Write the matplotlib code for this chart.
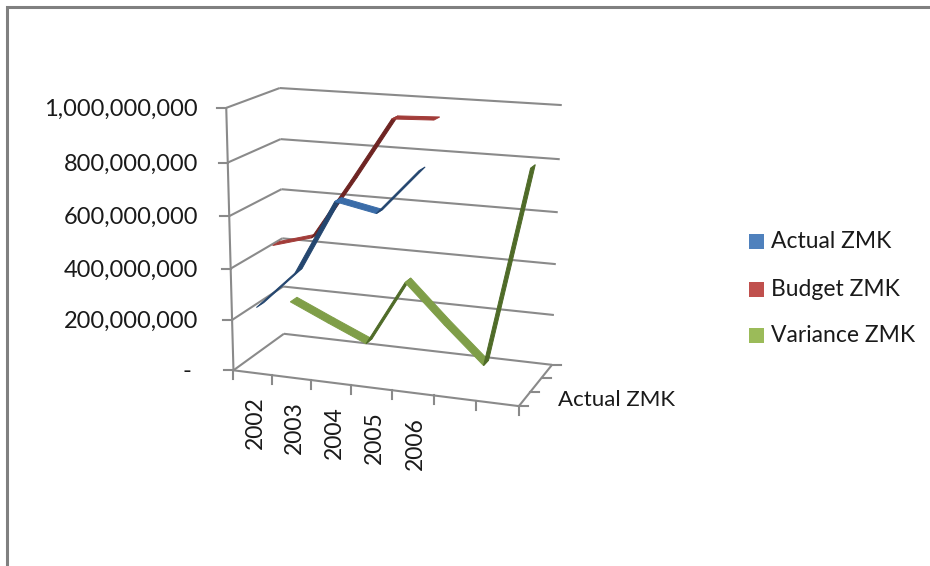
import numpy as np
import matplotlib
matplotlib.use('Agg')
import matplotlib.pyplot as plt
from matplotlib.patches import Polygon, Rectangle

plt.rcParams['font.family'] = ['Lato', 'DejaVu Sans']

categories = ['2002', '2003', '2004', '2005', '2006', '', '']
y_ticks = [0, 200000000, 400000000, 600000000, 800000000, 1000000000]
series_names = ['Actual ZMK', 'Budget ZMK', 'Variance ZMK']

actual = [244000000, 394000000, 677000000, 646000000, 814000000]
budget = [445000000, 489000000, 720000000, 960000000, 966000000]
variance = [176000000, 106000000, 38000000, 303000000, 150000000, 5000000, 783000000]

legend_colors = ['#4F81BD', '#C0504D', '#9BBB59']
top_colors = ['#3A6CA8', '#A23C39', '#7F9E48']
under_colors = ['#24466F', '#6E2422', '#4F6B28']

GRID = '#8A8A8A'
TEXT = '#1A1A1A'
RIBBON = 0.42

# corners of the 3d box: (category, depth, value 0-1) -> picture pixels
box_pts = [(0, 0, 0), (0, 0, 1), (0, 3, 0), (0, 3, 1), (7, 3, 0), (7, 3, 1), (7, 0, 0)]
px_pts = [(233.3, 370), (226, 108.3), (284, 334), (280, 87.7), (551.7, 365), (561.7, 105), (519.3, 406)]


def fit_camera():
  A, b = [], []
  for (u, d, v), (x, y) in zip(box_pts, px_pts):
    A.append([u, d, v, 1, 0, 0, 0, 0, -x * u, -x * d, -x * v])
    b.append(x)
    A.append([0, 0, 0, 0, u, d, v, 1, -y * u, -y * d, -y * v])
    b.append(y)
  m = np.linalg.lstsq(np.array(A, float), np.array(b, float), rcond=None)[0]
  return np.append(m, 1).reshape(3, 4)


cam = fit_camera()


def project(u, d, v):
  p = cam @ np.array([u, d, v, 1.0])
  return p[0] / p[2], p[1] / p[2]


def line3d(ax, a, b, zorder=2, lw=1.5):
  pa, pb = project(*a), project(*b)
  ax.plot([pa[0], pb[0]], [pa[1], pb[1]], color=GRID, lw=lw, zorder=zorder, solid_capstyle='butt')


def ribbon(ax, values, depth, idx):
  d0, d1 = depth - RIBBON / 2, depth + RIBBON / 2
  for i in range(len(values) - 1):
    v0, v1 = values[i] / y_ticks[-1], values[i + 1] / y_ticks[-1]
    u0, u1 = i + 0.5, i + 1.5
    pts = np.array([project(u0, d0, v0), project(u1, d0, v1), project(u1, d1, v1), project(u0, d1, v0)])
    # which side of the ribbon faces the viewer
    e1, e2 = pts[1] - pts[0], pts[3] - pts[0]
    up = e1[0] * e2[1] - e1[1] * e2[0] < 0
    col = top_colors[idx] if up else under_colors[idx]
    ax.add_patch(Polygon(pts, closed=True, facecolor=col, edgecolor=col, lw=0.7, zorder=5 - idx))


fig = plt.figure(figsize=(9.3, 5.66), dpi=100)
ax = fig.add_axes([0, 0, 1, 1])
ax.set_xlim(0, 930)
ax.set_ylim(566, 0)
ax.axis('off')

# frame of the chart, only top and left show
ax.plot([930, 7, 7], [7, 7, 566], color='#808080', lw=2.2, solid_joinstyle='miter')

n = len(categories)
depths = 3

# gridlines on left and back wall
for t in y_ticks:
  v = t / y_ticks[-1]
  line3d(ax, (0, 0, v), (0, depths, v))
  line3d(ax, (0, depths, v), (n, depths, v))
  x, y = project(0, 0, v)
  ax.plot([x - 9, x], [y, y], color=GRID, lw=1.5)
  label = '-' if t == 0 else format(t, ',')
  ax.text(198 if t else 191, y + 1.5, label, ha='right', va='center', fontsize=17, color=TEXT)

# axes of the floor
line3d(ax, (0, 0, 0), (0, 0, 1))
line3d(ax, (0, 0, 0), (n, 0, 0))
line3d(ax, (n, 0, 0), (n, depths, 0))

for i in range(n + 1):
  x, y = project(i, 0, 0)
  ax.plot([x, x], [y, y + 9], color=GRID, lw=1.5)

for i in range(depths + 1):
  x, y = project(n, i, 0)
  ax.plot([x, x + 9], [y, y], color=GRID, lw=1.5)

for i, name in enumerate(categories):
  if name:
    x, y = project(i + 0.5, 0, 0)
    ax.text(x + 3, y + 24, name, rotation=90, ha='center', va='top', fontsize=16.5, color=TEXT)

ax.text(558, 400, series_names[0], ha='left', va='center', fontsize=16, color=TEXT)

# back series first
ribbon(ax, variance, 2.5, 2)
ribbon(ax, budget, 1.5, 1)
ribbon(ax, actual, 0.5, 0)

# legend
for name, col, y in zip(series_names, legend_colors, [241, 289, 335]):
  ax.add_patch(Rectangle((749, y - 7.5), 15, 15, facecolor=col, edgecolor='none'))
  ax.text(771, y + 0.5, name, ha='left', va='center', fontsize=16.5, color=TEXT)

plt.savefig('out.png', dpi=100)
